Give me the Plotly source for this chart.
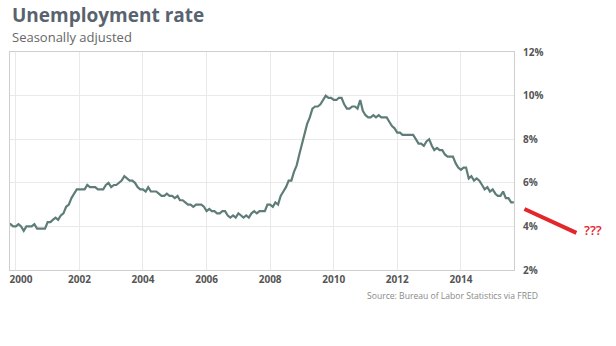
import pandas as pd
import plotly.graph_objects as go

# Monthly US unemployment rate (%), Oct 1999 - Sep 2015
start_month = "1999-10-01"
unemployment = [
    4.1, 4.1, 4.0,
    4.0, 4.1, 4.0, 3.8, 4.0, 4.0, 4.0, 4.1, 3.9, 3.9, 3.9, 3.9,
    4.2, 4.2, 4.3, 4.4, 4.3, 4.5, 4.6, 4.9, 5.0, 5.3, 5.5, 5.7,
    5.7, 5.7, 5.7, 5.9, 5.8, 5.8, 5.8, 5.7, 5.7, 5.7, 5.9, 6.0,
    5.8, 5.9, 5.9, 6.0, 6.1, 6.3, 6.2, 6.1, 6.1, 6.0, 5.8, 5.7,
    5.7, 5.6, 5.8, 5.6, 5.6, 5.6, 5.5, 5.4, 5.4, 5.5, 5.4, 5.4,
    5.3, 5.4, 5.2, 5.2, 5.1, 5.0, 5.0, 4.9, 5.0, 5.0, 5.0, 4.9,
    4.7, 4.8, 4.7, 4.7, 4.6, 4.6, 4.7, 4.7, 4.5, 4.4, 4.5, 4.4,
    4.6, 4.5, 4.4, 4.5, 4.4, 4.6, 4.7, 4.6, 4.7, 4.7, 4.7, 5.0,
    5.0, 4.9, 5.1, 5.0, 5.4, 5.6, 5.8, 6.1, 6.1, 6.5, 6.8, 7.3,
    7.8, 8.3, 8.7, 9.0, 9.4, 9.5, 9.5, 9.6, 9.8, 10.0, 9.9, 9.9,
    9.8, 9.8, 9.9, 9.9, 9.6, 9.4, 9.4, 9.5, 9.5, 9.4, 9.8, 9.3,
    9.1, 9.0, 9.0, 9.1, 9.0, 9.1, 9.0, 9.0, 9.0, 8.8, 8.6, 8.5,
    8.3, 8.3, 8.2, 8.2, 8.2, 8.2, 8.2, 8.0, 7.8, 7.8, 7.7, 7.9,
    8.0, 7.7, 7.5, 7.6, 7.5, 7.5, 7.3, 7.2, 7.2, 7.2, 6.9, 6.7,
    6.6, 6.7, 6.7, 6.2, 6.3, 6.1, 6.2, 6.1, 5.9, 5.7, 5.8, 5.6,
    5.7, 5.5, 5.4, 5.4, 5.6, 5.3, 5.3, 5.1, 5.1,
]
months = pd.date_range(start_month, periods=len(unemployment), freq="MS")

# Hypothetical continuation drawn past the chart frame
forecast_dates = ["2016-01-01", "2017-08-20"]
forecast_rate = [4.8, 3.7]
forecast_label = "???"

y_ticks = [2, 4, 6, 8, 10, 12]
y_tick_text = [f"{v}%" for v in y_ticks]
x_years = list(range(2000, 2016, 2))
x_ticks = [f"{y}-01-01" for y in x_years]
# first year label nudged right so it stays clear of the frame edge
x_tick_text = ["\u00a0" * 4 + str(x_years[0])] + [str(y) for y in x_years[1:]]

W, H = 616, 346
ML, MR, MT, MB = 10, 0, 52, 76
plot_w = 504  # width of the framed chart area in px
plot_h = H - MT - MB
paper_w = W - ML - MR
main_frac = plot_w / paper_w

x0 = pd.Timestamp("1999-10-26")
x1 = pd.Timestamp("2015-09-03")
days_per_px = (x1 - x0) / plot_w
x2_end = x1 + days_per_px * (paper_w - plot_w)

grid = "#e9e9e9"
frame = "#cfcfcf"
tick_font = dict(family="Open Sans", size=10, color="#555555", weight=700)

fig = go.Figure()
fig.add_trace(go.Scatter(
    x=months, y=unemployment, mode="lines",
    line=dict(color="#5f7d78", width=2.2),
    xaxis="x", yaxis="y", hoverinfo="skip",
))
fig.add_trace(go.Scatter(
    x=forecast_dates, y=forecast_rate, mode="lines",
    line=dict(color="#e3262b", width=4),
    xaxis="x2", yaxis="y2", hoverinfo="skip",
))

fig.update_layout(
    width=W, height=H,
    margin=dict(l=ML, r=MR, t=MT, b=MB),
    paper_bgcolor="white", plot_bgcolor="white",
    showlegend=False,
    xaxis=dict(
        domain=[0, main_frac], type="date", range=[x0, x1],
        tickmode="array", tickvals=x_ticks, ticktext=x_tick_text,
        ticklabeloverflow="allow",
        showgrid=True, gridcolor=grid, gridwidth=1,
        showline=True, linecolor=frame, linewidth=1, mirror=True,
        ticks="", zeroline=False, tickfont=tick_font,
    ),
    yaxis=dict(
        range=[2, 12], side="right", tickvals=y_ticks, ticktext=y_tick_text,
        showgrid=True, gridcolor=grid, gridwidth=1,
        showline=True, linecolor=frame, linewidth=1, mirror=True,
        ticks="", zeroline=False, tickfont=tick_font, ticklabelstandoff=6,
    ),
    xaxis2=dict(
        domain=[main_frac, 1], type="date", range=[x1, x2_end],
        visible=False, anchor="y2",
    ),
    yaxis2=dict(range=[2, 12], visible=False, anchor="x2"),
    annotations=[
        dict(text="Unemployment rate", xref="paper", yref="paper",
             x=0, y=1 + (MT - 15) / plot_h, xanchor="left", yanchor="middle",
             xshift=0, showarrow=False,
             font=dict(family="Open Sans", size=19, color="#59636e", weight=700)),
        dict(text="Seasonally adjusted", xref="paper", yref="paper",
             x=0, y=1 + (MT - 37) / plot_h, xanchor="left", yanchor="middle",
             xshift=0, showarrow=False,
             font=dict(family="Open Sans", size=13, color="#666666")),
        dict(text="Source: Bureau of Labor Statistics via FRED", xref="paper", yref="paper",
             x=(540 - ML) / paper_w, y=-(296 - (H - MB)) / plot_h,
             xanchor="right", yanchor="middle", showarrow=False,
             font=dict(family="Open Sans", size=8.6, color="#888888")),
        dict(text=forecast_label, xref="x2", yref="y2",
             x="2018-03-01", y=3.85, xanchor="center", yanchor="middle", showarrow=False,
             font=dict(family="Open Sans", size=13, color="#e3262b", weight=600)),
    ],
)

fig.write_html("out.html")
